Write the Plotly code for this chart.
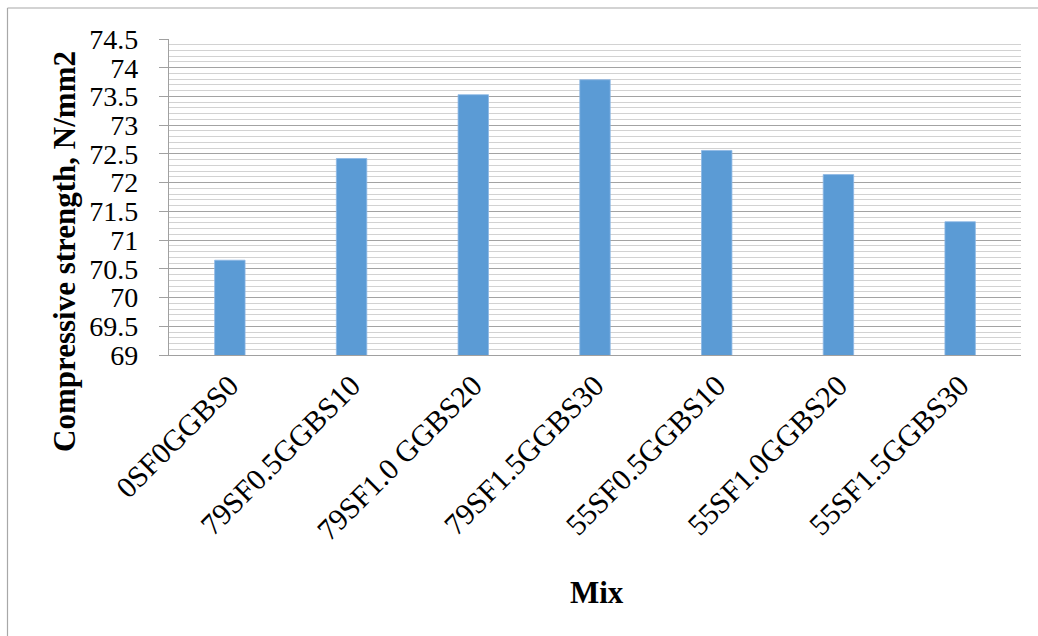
import plotly.graph_objects as go

# Mix designations and measured compressive strengths (N/mm2)
mixes = ["0SF0GGBS0", "79SF0.5GGBS10", "79SF1.0 GGBS20", "79SF1.5GGBS30",
         "55SF0.5GGBS10", "55SF1.0GGBS20", "55SF1.5GGBS30"]
strength = [70.65, 72.42, 73.53, 73.79, 72.56, 72.14, 71.32]

# Y-axis tick values and their labels
y_ticks = [69, 69.5, 70, 70.5, 71, 71.5, 72, 72.5, 73, 73.5, 74, 74.5]
y_tick_text = ["69", "69.5", "70", "70.5", "71", "71.5", "72", "72.5",
               "73", "73.5", "74", "74.5"]

W, H = 1038, 636
L, R, T, B = 169, 17, 39, 281
pw, ph = W - L - R, H - T - B

def px_x(x):
    return (x - L) / pw

def px_y(y):
    return (H - B - y) / ph

serif = "Liberation Serif, Times New Roman, serif"

fig = go.Figure(go.Bar(
    x=mixes, y=strength,
    marker=dict(color="#5B9BD5", line=dict(color="#8DB8E4", width=0.8)),
    width=0.25,
))

fig.update_layout(
    width=W, height=H,
    margin=dict(l=L, r=R, t=T, b=B, pad=0),
    paper_bgcolor="white", plot_bgcolor="white",
    showlegend=False,
    font=dict(family=serif, color="black"),
)

fig.update_xaxes(
    tickangle=-45, tickfont=dict(size=30, family=serif),
    showline=True, linecolor="#a0a0a0", linewidth=1.3,
    ticks="", showgrid=False,
)
fig.update_yaxes(
    range=[69, 74.5], tickvals=y_ticks, ticktext=y_tick_text,
    tickfont=dict(size=28, family=serif),
    ticks="outside", ticklen=9, tickcolor="#a0a0a0", tickwidth=1.3,
    ticklabelstandoff=15,
    showline=True, linecolor="#a0a0a0", linewidth=1.3,
    showgrid=True, gridcolor="#a3a3a3", gridwidth=1.3,
    minor=dict(dtick=0.1, tick0=69, showgrid=True,
               gridcolor="#d2d2d2", gridwidth=1.3, ticks=""),
    zeroline=False,
)

# axis titles
fig.add_annotation(
    text="<b>Compressive strength, N/mm2</b>", textangle=-90,
    xref="paper", yref="paper", x=px_x(64), y=px_y(252),
    xanchor="center", yanchor="middle", showarrow=False,
    font=dict(size=31, family=serif, color="black"),
)
fig.add_annotation(
    text="<b>Mix</b>",
    xref="paper", yref="paper", x=px_x(597), y=px_y(592),
    xanchor="center", yanchor="middle", showarrow=False,
    font=dict(size=31, family=serif, color="black"),
)

# outer chart frame (left and top edges)
fig.add_shape(type="line", xref="paper", yref="paper",
              x0=px_x(7.5), x1=px_x(7.5), y0=px_y(8), y1=px_y(H + 5),
              line=dict(color="#a8a8a8", width=1.2))
fig.add_shape(type="line", xref="paper", yref="paper",
              x0=px_x(7.5), x1=px_x(W + 5), y0=px_y(8), y1=px_y(8),
              line=dict(color="#a8a8a8", width=1.2))

fig.write_html("out.html")
